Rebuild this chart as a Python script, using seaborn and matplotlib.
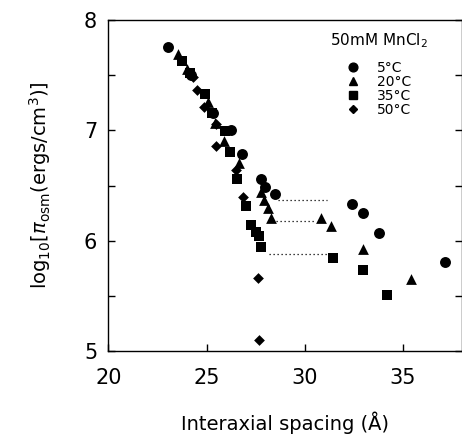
import numpy as np
import pandas as pd
import matplotlib
matplotlib.use("Agg")
import matplotlib.pyplot as plt
import seaborn as sns
from matplotlib.lines import Line2D

# ─── Data ────────────────────────────────────────────────────────────────────
x_5C  = [23.05, 24.23, 25.33, 26.26, 26.82, 27.79, 27.95, 28.46, 32.41, 32.98, 33.76, 37.14]
y_5C  = [7.76, 7.50, 7.16, 7.00, 6.79, 6.56, 6.49, 6.42, 6.33, 6.25, 6.07, 5.81]

x_20C = [23.55, 24.03, 25.08, 25.42, 25.87, 26.65, 27.79, 27.90, 28.12, 28.29, 30.83, 31.34, 32.98, 35.40]
y_20C = [7.69, 7.56, 7.26, 7.07, 6.90, 6.70, 6.44, 6.37, 6.30, 6.21, 6.21, 6.13, 5.92, 5.65]

x_35C = [23.73, 24.18, 24.91, 25.30, 25.92, 26.18, 26.57, 26.99, 27.28, 27.53, 27.66, 27.79, 31.42, 32.98, 34.16]
y_35C = [7.63, 7.52, 7.33, 7.16, 6.99, 6.80, 6.56, 6.31, 6.14, 6.08, 6.04, 5.94, 5.84, 5.73, 5.51]

x_50C = [24.30, 24.52, 24.87, 25.50, 25.47, 26.52, 26.85, 27.60, 27.65]
y_50C = [7.48, 7.37, 7.21, 7.06, 6.86, 6.64, 6.40, 5.66, 5.10]

# dotted guide lines (start x, end x, level)
guide_x0 = [28.66, 28.55, 28.17]
guide_x1 = [31.14, 30.58, 31.17]
guide_y  = [6.37, 6.18, 5.88]

labels  = ["5\u00b0C", "20\u00b0C", "35\u00b0C", "50\u00b0C"]
markers = ["o", "^", "s", "D"]
msizes  = [62, 60, 42, 30]

# ─── Style ───────────────────────────────────────────────────────────────────
sns.set_style("ticks")
plt.rcParams["font.family"] = ["DejaVu Sans"]
plt.rcParams["mathtext.fontset"] = "dejavusans"
for key in ["text.color", "axes.labelcolor", "xtick.color", "ytick.color", "axes.edgecolor"]:
    plt.rcParams[key] = "black"

fig = plt.figure(figsize=(4.62, 4.36), dpi=100)
ax = fig.add_axes([0.2344, 0.195, 0.7656, 0.759])

series = [(x_5C, y_5C), (x_20C, y_20C), (x_35C, y_35C), (x_50C, y_50C)]
for (xs, ys), lab, mk, s in zip(series, labels, markers, msizes):
    df = pd.DataFrame({"x": xs, "y": ys})
    sns.scatterplot(data=df, x="x", y="y", marker=mk, s=s, color="black",
                    edgecolor="black", linewidth=0, ax=ax, label=lab, legend=False)

for x0, x1, yy in zip(guide_x0, guide_x1, guide_y):
    ax.plot([x0, x1], [yy, yy], color="black", lw=0.9, ls=(0, (1, 2.2)))

ax.set_xlim(20, 38)
ax.set_ylim(5, 8)
ax.set_xticks([20, 25, 30, 35])
ax.set_yticks([5, 6, 7, 8])
ax.set_yticks([5.5, 6.5, 7.5], minor=True)
ax.tick_params(axis="both", which="both", direction="in", length=5, width=1,
               top=False, right=True, labelsize=15)
ax.tick_params(axis="x", pad=12)
ax.tick_params(axis="y", pad=8)
for sp in ax.spines.values():
    sp.set_linewidth(1.0)
    sp.set_visible(True)

ax.set_xlabel("Interaxial spacing (\u00c5)", fontsize=14, labelpad=17)
ax.set_ylabel(r"log$_{10}$[$\pi_{\rm osm}$(ergs/cm$^3$)]", fontsize=14, labelpad=22)

handles = [Line2D([], [], ls="none", marker=mk, color="black",
                  markersize=np.sqrt(s) * 0.8) for mk, s in zip(markers, msizes)]
leg = ax.legend(handles, labels, title=r"50mM MnCl$_2$", frameon=False,
                loc="upper right", bbox_to_anchor=(0.93, 0.995),
                fontsize=10, title_fontsize=11, handlelength=1.0,
                handletextpad=1.2, labelspacing=0.0, borderaxespad=0.3)
leg._legend_box.sep = 8
for t in leg.get_texts():
    t.set_ha("right")

fig.savefig("out.png", dpi=100)
